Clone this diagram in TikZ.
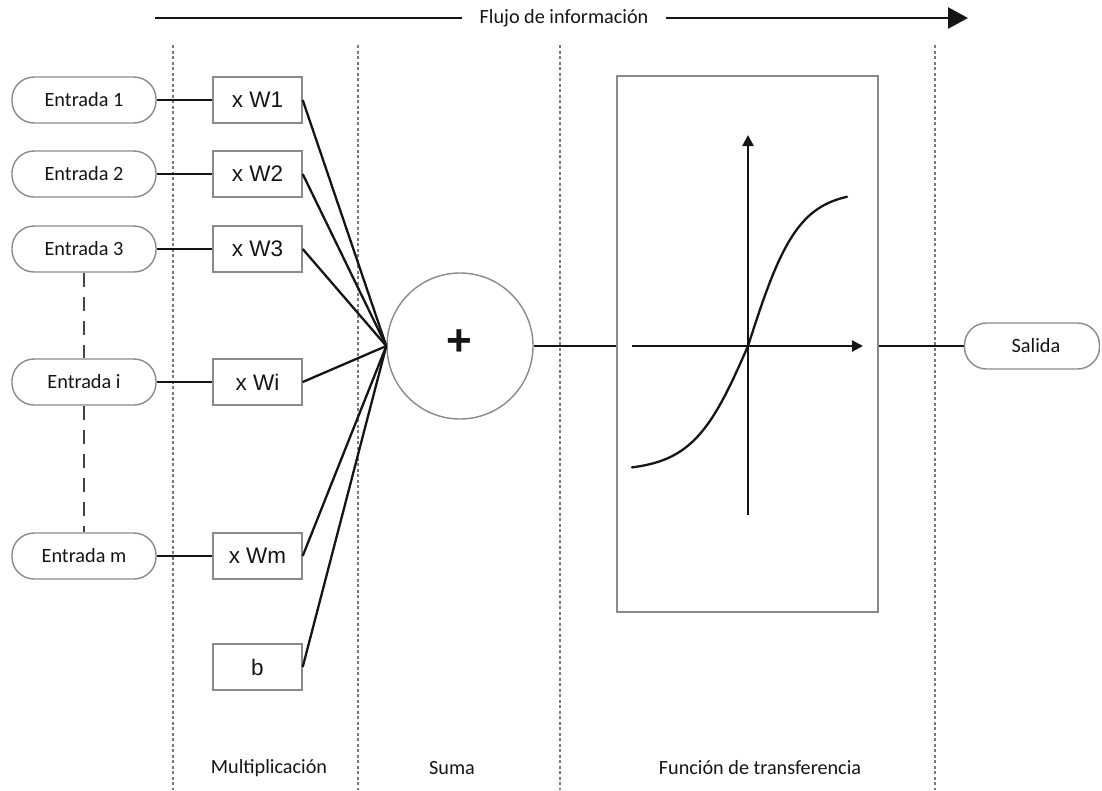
\documentclass[tikz,border=0pt]{standalone}
\usepackage{fontspec}
\setmainfont{Carlito}
\newfontfamily\arialfont{Liberation Sans}
\usetikzlibrary{arrows.meta}
\definecolor{edge}{HTML}{8A8A8A}
\definecolor{ink}{HTML}{151515}
\definecolor{guidegray}{HTML}{7A7A7A}
\begin{document}
\begin{tikzpicture}[x=1pt,y=-1pt,
  pill/.style={draw=edge, line width=1.4pt, rounded corners=22pt,
    minimum width=144pt, minimum height=46pt, inner sep=0pt,
    font=\fontsize{20.3}{20.3}\selectfont, text=ink},
  wbox/.style={draw=edge, line width=1.4pt, minimum width=89pt,
    minimum height=46pt, inner sep=0pt,
    font=\arialfont\fontsize{22.5}{22.5}\selectfont, text=ink},
  wire/.style={draw=ink, line width=2.3pt},
  guide/.style={draw=guidegray, line width=1.3pt, dash pattern=on 3pt off 2.5pt},
  gap/.style={draw=ink!80, line width=2.5pt, dash pattern=on 14pt off 10pt},
  caption/.style={font=\fontsize{20.2}{20.2}\selectfont, text=ink, inner sep=0pt}]
\useasboundingbox (0,0) rectangle (1102,790);

% stage separators
\draw[guide] (173,45) -- (173,790);
\draw[guide] (358,45) -- (358,790);
\draw[guide] (560,45) -- (560,790);
\draw[guide] (935,45) -- (935,790);

% information flow arrow
\node[caption, inner xsep=17pt, fill=white] (flow) at (564,18) {Flujo de información};
\coordinate (fs) at (155,18);
\coordinate (fe) at (968,18);
\draw[wire, line width=2.6pt] (fs) -- (flow.west);
\draw[wire, line width=2.6pt, -{Triangle[length=20pt,width=21pt]}] (flow.east) -- (fe);

% inputs
\node[pill] (e1) at (84,100) {Entrada 1};
\node[pill] (e2) at (84,174) {Entrada 2};
\node[pill] (e3) at (84,249) {Entrada 3};
\node[pill] (ei) at (84,382) {Entrada i};
\node[pill] (em) at (84,556) {Entrada m};
\draw[gap] (e3.south) -- (ei.north);
\draw[gap] (ei.south) -- (em.north);

% weights
\node[wbox] (w1) at (257.5,100) {x W1};
\node[wbox] (w2) at (257.5,174) {x W2};
\node[wbox] (w3) at (257.5,249) {x W3};
\node[wbox] (wi) at (257.5,382) {x Wi};
\node[wbox] (wm) at (257.5,556) {x Wm};
\node[wbox] (b)  at (257.5,667) {b};

\draw[wire] (e1) -- (w1);
\draw[wire] (e2) -- (w2);
\draw[wire] (e3) -- (w3);
\draw[wire] (ei) -- (wi);
\draw[wire] (em) -- (wm);

% summation
\node[circle, draw=edge, line width=1.4pt, minimum size=146pt, inner sep=0pt] (sum) at (460,346) {};
\node[font=\arialfont\bfseries\fontsize{44}{44}\selectfont, text=ink, inner sep=0pt] (plus) at (459,343) {+};
\foreach \w in {w1,w2,w3,wi,wm,b}
  \draw[wire] (\w.east) -- (sum.west);

% transfer function
\node[draw=edge, line width=1.4pt, minimum width=261pt, minimum height=536pt,
  inner sep=0pt] (tf) at (747.5,344) {};
\draw[wire] (sum.east) -- (sum.east -| tf.west);
\draw[wire, -{Triangle[length=11pt,width=11pt]}] (632,346) -- (863,346);
\draw[wire, -{Triangle[length=11pt,width=11pt]}] (748,515) -- (748,135);
\draw[wire, line cap=round] plot[domain=-116:0, samples=50, smooth]
  ({748+\x}, {346-125*tanh(\x/55)})
  -- plot[domain=0:99, samples=50, smooth]
  ({748+\x}, {346-155*tanh(\x/50)});

% output
\node[pill, minimum width=135pt, text width=135pt, align=center] (out) at (1032,346) {\hspace*{8pt}Salida};
\draw[wire] (tf.east |- out) -- (out.west);

% stage captions
\node[caption] (c1) at (269,768) {Multiplicación};
\node[caption] (c2) at (452,768) {Suma};
\node[caption] (c3) at (760,768) {Función de transferencia};
\end{tikzpicture}
\end{document}
